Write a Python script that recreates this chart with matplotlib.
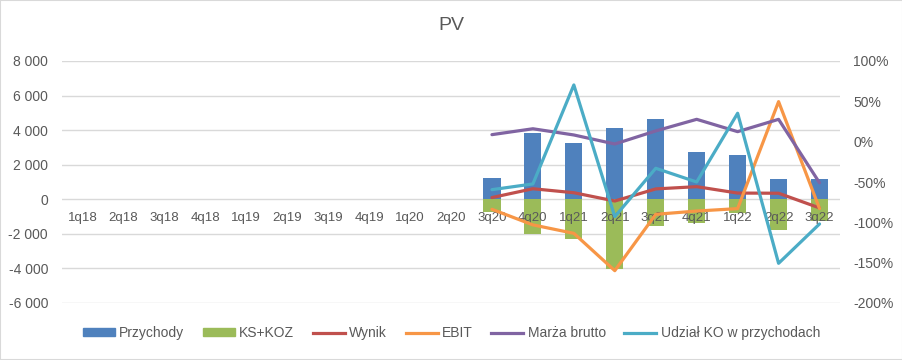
import numpy as np
import matplotlib
matplotlib.use("Agg")
import matplotlib.pyplot as plt
from matplotlib.patches import Rectangle
from matplotlib.lines import Line2D
from matplotlib.patches import Patch
from matplotlib.ticker import FuncFormatter

categories = ["1q18", "2q18", "3q18", "4q18", "1q19", "2q19", "3q19", "4q19",
              "1q20", "2q20", "3q20", "4q20", "1q21", "2q21", "3q21", "4q21",
              "1q22", "2q22", "3q22"]
nan = np.nan
przychody = [nan] * 10 + [1230, 3850, 3260, 4120, 4640, 2740, 2560, 1180, 1180]
ks_koz = [nan] * 10 + [-720, -2000, -2300, -4030, -1540, -1350, -810, -1750, -1250]
wynik = [nan] * 10 + [100, 610, 380, -100, 600, 730, 360, 350, -500]
ebit = [nan] * 10 + [-580, -1480, -1970, -4130, -870, -680, -540, 5650, -540]
marza = [nan] * 10 + [0.087, 0.16, 0.083, -0.029, 0.133, 0.277, 0.124, 0.277, -0.51]
udzial_ko = [nan] * 10 + [-0.595, -0.524, 0.703, -0.93, -0.33, -0.50, 0.352, -1.508, -1.02]
left_ticks = [-6000, -4000, -2000, 0, 2000, 4000, 6000, 8000]
right_ticks = [-2.0, -1.5, -1.0, -0.5, 0.0, 0.5, 1.0]

C_BLUE = "#4f81bd"
C_GREEN = "#9bbb59"
C_RED = "#c0504d"
C_ORANGE = "#f79646"
C_PURPLE = "#8064a2"
C_TEAL = "#4bacc6"
TXT = "#595959"
GRID = "#d9d9d9"

plt.rcParams['font.family'] = ['Liberation Sans', 'DejaVu Sans']

fig = plt.figure(figsize=(9.03, 3.60), dpi=100)
fig.patches.append(Rectangle((0, 0), 1, 1, transform=fig.transFigure,
                             fill=False, edgecolor=GRID, linewidth=1.5))
ax = fig.add_axes([62 / 903, 1 - 303 / 360, (840 - 62) / 903, (303 - 61) / 360])
ax2 = ax.twinx()

x = np.arange(len(categories))
bw = 0.42
for t in left_ticks:
    ax.axhline(t, color=GRID, lw=1, zorder=0)
ax.bar(x, przychody, width=bw, color=C_BLUE, zorder=1)
ax.bar(x, ks_koz, width=bw, color=C_GREEN, zorder=1)
ax.plot(x, wynik, color=C_RED, lw=2.3, zorder=3, solid_capstyle='round')
ax.plot(x, ebit, color=C_ORANGE, lw=2.3, zorder=3, solid_capstyle='round')
ax2.plot(x, marza, color=C_PURPLE, lw=2.3, solid_capstyle='round')
ax2.plot(x, udzial_ko, color=C_TEAL, lw=2.3, solid_capstyle='round')

ax.set_xlim(-0.5, len(categories) - 0.5)
ax.set_ylim(-6000, 8000)
ax.set_yticks(left_ticks)
ax.yaxis.set_major_formatter(FuncFormatter(lambda v, p: f"{int(v):,}".replace(",", " ")))
ax2.set_ylim(-2.0, 1.0)
ax2.set_yticks(right_ticks)
ax2.yaxis.set_major_formatter(FuncFormatter(lambda v, p: f"{v * 100:.0f}%"))

for a in (ax, ax2):
    for s in a.spines.values():
        s.set_visible(False)
    a.tick_params(axis='y', length=0, labelsize=10, colors=TXT)
ax.tick_params(axis='y', pad=10)
ax2.tick_params(axis='y', pad=9.5)

ax.set_xticks(x)
ax.set_xticklabels(categories)
ax.spines['bottom'].set_position(('data', 0))
ax.tick_params(axis='x', length=0, labelsize=9.5, colors=TXT, pad=9)

fig.text(0.5, 1 - 26 / 360, "PV", ha='center', va='center', fontsize=14, color=TXT)

handles = [Patch(color=C_BLUE), Patch(color=C_GREEN),
           Line2D([], [], color=C_RED, lw=2.3),
           Line2D([], [], color=C_ORANGE, lw=2.3),
           Line2D([], [], color=C_PURPLE, lw=2.3),
           Line2D([], [], color=C_TEAL, lw=2.3)]
labels = ["Przychody", "KS+KOZ", "Wynik", "EBIT", "Marża brutto", "Udział KO w przychodach"]
leg = fig.legend(handles, labels, loc='center', bbox_to_anchor=(0.5, 1 - 333 / 360),
                 ncol=6, frameon=False, fontsize=10, handlelength=2.3, handleheight=0.5,
                 columnspacing=1.35, handletextpad=0.3, labelcolor=TXT)

fig.savefig("out.png", dpi=100)
